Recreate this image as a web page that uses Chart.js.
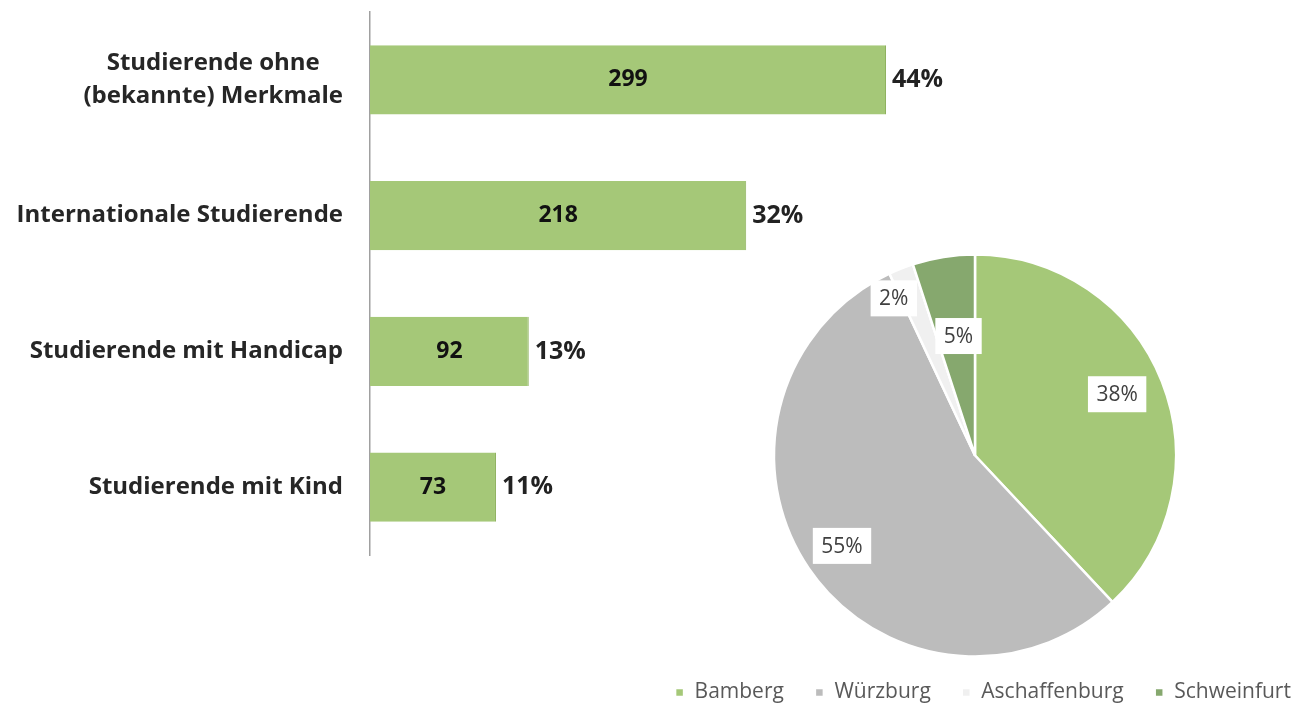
<!DOCTYPE html>
<html>
<head>
<meta charset="utf-8">
<script src="https://cdn.jsdelivr.net/npm/chart.js@4.4.0/dist/chart.umd.min.js"></script>
<style>
  body { margin: 0; background: #fff; overflow: hidden; }
  #wrap { position: relative; width: 1294px; height: 707px; overflow: hidden; }
  #barbox { position: absolute; left: 0; top: 0; width: 990px; height: 580px; }
  #piebox { position: absolute; left: 580px; top: 240px; width: 800px; height: 473px; }
</style>
</head>
<body>
<div id="wrap">
  <div id="barbox"><canvas id="grafbarras"></canvas></div>
  <div id="piebox"><canvas id="grafpie"></canvas></div>
</div>
<script>
// datos barras
const categorias = [['Studierende ohne', '(bekannte) Merkmale'], 'Internationale Studierende', 'Studierende mit Handicap', 'Studierende mit Kind'];
const valores = [299, 218, 92, 73];
const porcentajes = ['44%', '32%', '13%', '11%'];

// datos pie
const standorte = ['Bamberg', 'Würzburg', 'Aschaffenburg', 'Schweinfurt'];
const anteile = [38, 55, 2, 5];

const fuente = '"Open Sans", sans-serif';
const verde = '#a5c878';

// etiquetas de las barras (valor dentro, % fuera)
const barLabels = {
  id: 'barLabels',
  afterDatasetsDraw(chart) {
    const { ctx } = chart;
    const meta = chart.getDatasetMeta(0);
    ctx.save();
    ctx.textBaseline = 'middle';
    meta.data.forEach((bar, i) => {
      const left = bar.base;
      ctx.fillStyle = '#111';
      ctx.font = 'bold 23px ' + fuente;
      ctx.textAlign = 'center';
      ctx.fillText(valores[i], (left + bar.x) / 2, bar.y);
      ctx.fillStyle = '#222';
      ctx.font = 'bold 25px ' + fuente;
      ctx.textAlign = 'left';
      ctx.fillText(porcentajes[i], bar.x + 6, bar.y);
    });
    ctx.restore();
  }
};

// categorias: bloque alineado a la derecha, lineas centradas entre si (como Excel)
const catLabels = {
  id: 'catLabels',
  afterDraw(chart) {
    const { ctx } = chart;
    const y = chart.scales.y;
    const derecha = y.right - 27;
    const alto = 33;
    ctx.save();
    ctx.font = 'bold 24px ' + fuente;
    ctx.fillStyle = '#262626';
    ctx.textAlign = 'center';
    ctx.textBaseline = 'middle';
    categorias.forEach((c, i) => {
      const lineas = Array.isArray(c) ? c : [c];
      const ancho = Math.max(...lineas.map(l => ctx.measureText(l).width));
      const cx = derecha - ancho / 2;
      const cy = y.getPixelForValue(i);
      lineas.forEach((l, j) => {
        ctx.fillText(l, cx, cy + (j - (lineas.length - 1) / 2) * alto);
      });
    });
    ctx.restore();
  }
};

new Chart(document.getElementById('grafbarras'), {
  type: 'bar',
  data: {
    labels: categorias,
    datasets: [{
      data: valores,
      backgroundColor: verde,
      borderColor: '#8fb25f',
      borderWidth: { right: 1 },
      borderSkipped: 'left',
      categoryPercentage: 1,
      barPercentage: 0.51
    }]
  },
  options: {
    indexAxis: 'y',
    responsive: true,
    maintainAspectRatio: false,
    animation: false,
    layout: { padding: { top: 12, bottom: 25, right: 104 } },
    plugins: { legend: { display: false }, tooltip: { enabled: false } },
    scales: {
      x: { display: false, min: 0, max: 299 },
      y: {
        afterFit(scale) {
          scale.width = 370;
          scale.paddingTop = 0;
          scale.paddingBottom = 0;
        },
        grid: { display: false, drawTicks: false },
        border: { color: '#a0a0a0', width: 1.5 },
        ticks: { display: false }
      }
    }
  },
  plugins: [barLabels, catLabels]
});

// etiquetas del pie con caja blanca
const radioEtiqueta = [0.77, 0.8, 0.88, 0.6];
const giroEtiqueta = [-0.03, 0, -0.1, 0.02];
const pieLabels = {
  id: 'pieLabels',
  afterDatasetsDraw(chart) {
    const { ctx } = chart;
    const meta = chart.getDatasetMeta(0);
    ctx.save();
    ctx.font = '21px ' + fuente;
    ctx.textAlign = 'center';
    ctx.textBaseline = 'middle';
    meta.data.forEach((arc, i) => {
      const mid = (arc.startAngle + arc.endAngle) / 2 + giroEtiqueta[i];
      const r = arc.outerRadius * radioEtiqueta[i];
      const x = arc.x + Math.cos(mid) * r;
      const y = arc.y + Math.sin(mid) * r;
      const txt = anteile[i] + '%';
      const w = ctx.measureText(txt).width + 17;
      ctx.fillStyle = '#fff';
      ctx.fillRect(x - w / 2, y - 18, w, 36);
      ctx.fillStyle = '#404040';
      ctx.fillText(txt, x, y + 1);
    });
    ctx.restore();
  }
};

// la leyenda de Excel queda un poco a la derecha del centro del pie
const moverLeyenda = {
  id: 'moverLeyenda',
  afterLayout(chart) {
    chart.legend.left += 8;
    chart.legend.right += 8;
  }
};

new Chart(document.getElementById('grafpie'), {
  type: 'pie',
  data: {
    labels: standorte,
    datasets: [{
      data: anteile,
      backgroundColor: [verde, '#bcbcbc', '#f0f0f0', '#86a86e'],
      borderColor: '#fff',
      borderWidth: 2.5
    }]
  },
  options: {
    responsive: true,
    maintainAspectRatio: false,
    animation: false,
    radius: 201,
    layout: { padding: { top: 20, bottom: 0, right: 10 } },
    plugins: {
      tooltip: { enabled: false },
      legend: {
        position: 'bottom',
        labels: {
          boxWidth: 9,
          boxHeight: 9,
          padding: 31,
          color: '#595959',
          font: { family: fuente, size: 21 }
        }
      }
    }
  },
  plugins: [pieLabels, moverLeyenda]
});
</script>
</body>
</html>
